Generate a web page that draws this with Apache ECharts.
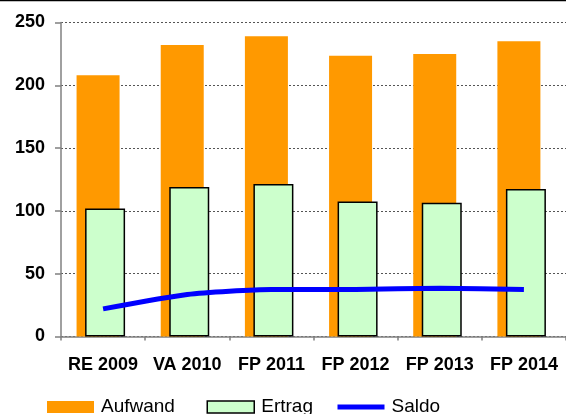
<!DOCTYPE html>
<html>
<head>
<meta charset="utf-8">
<script src="https://cdn.jsdelivr.net/npm/echarts@6/dist/echarts.min.js"></script>
<style>
html,body{margin:0;padding:0;background:#fff;}
#c{width:566px;height:414px;}
</style>
</head>
<body>
<div id="c"></div>
<script>
var categories = ['RE 2009', 'VA 2010', 'FP 2011', 'FP 2012', 'FP 2013', 'FP 2014'];
var aufwand = [208, 232, 239, 223.5, 225, 235];
var ertrag = [102, 119, 121.5, 107.5, 106.5, 117.5];
var saldo = [22, 33.5, 37.5, 37.5, 38.5, 37.5];
var yTicks = [0, 50, 100, 150, 200, 250];

var chart = echarts.init(document.getElementById('c'), null, {renderer: 'canvas'});
var font = 'Liberation Sans, Arial, sans-serif';
function legendAt(left, item) {
  return {
    left: left, top: 397.5, padding: 0,
    itemWidth: 47, itemHeight: 12,
    textStyle: {fontFamily: font, fontSize: 19, color: '#000', padding: [0, 0, 0, 2]},
    data: [item]
  };
}
chart.setOption({
  animation: false,
  backgroundColor: '#ffffff',
  graphic: [{
    type: 'line', shape: {x1: 0, y1: 0.5, x2: 566, y2: 0.5},
    style: {stroke: '#000', lineWidth: 1.5}
  }],
  grid: {left: 61, right: 0, top: 22.5, bottom: 77.5, containLabel: false},
  legend: [
    legendAt(47, {name: 'Aufwand', icon: 'rect', itemStyle: {color: '#FF9900', borderWidth: 0}}),
    legendAt(206.5, {name: 'Ertrag', icon: 'rect', itemStyle: {color: '#CCFFCC', borderColor: '#000', borderWidth: 1.5}}),
    legendAt(337.5, {name: 'Saldo', icon: 'path://M0,0H47V5H0Z', itemStyle: {color: '#0000FF', borderWidth: 0}})
  ],
  xAxis: {
    type: 'category', data: categories,
    axisLine: {lineStyle: {color: '#808080', width: 1.5}},
    axisTick: {show: true, length: 4, lineStyle: {color: '#808080', width: 1.5}},
    axisLabel: {fontFamily: font, fontSize: 18, fontWeight: 'bold', color: '#000', margin: 20, interval: 0, hideOverlap: false}
  },
  yAxis: {
    type: 'value', min: yTicks[0], max: yTicks[yTicks.length - 1], interval: 50,
    axisLine: {show: true, lineStyle: {color: '#808080', width: 1.5}},
    axisTick: {show: true, length: 6, lineStyle: {color: '#808080', width: 1.5}},
    axisLabel: {fontFamily: font, fontSize: 18, fontWeight: 'bold', color: '#000', margin: 16},
    splitLine: {show: true, lineStyle: {color: '#555', width: 1, type: [2, 2]}}
  },
  series: [
    {
      name: 'Aufwand', type: 'bar', data: aufwand,
      barWidth: 43, barGap: '-80.2%',
      itemStyle: {color: '#FF9900'}
    },
    {
      name: 'Ertrag', type: 'bar', data: ertrag,
      barWidth: 40,
      itemStyle: {color: '#CCFFCC', borderColor: '#000', borderWidth: 1.5}
    },
    {
      name: '_spacer', type: 'bar', data: [],
      barWidth: 36.6, silent: true,
      itemStyle: {opacity: 0}
    },
    {
      name: 'Saldo', type: 'line', data: saldo,
      smooth: 0.2, symbol: 'none', z: 5,
      lineStyle: {color: '#0000FF', width: 5},
      itemStyle: {color: '#0000FF'}
    }
  ]
});
</script>
</body>
</html>
